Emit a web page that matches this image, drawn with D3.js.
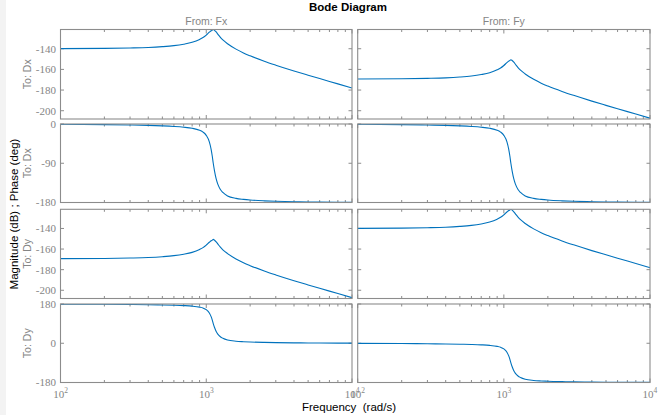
<!DOCTYPE html>
<html>
<head>
<meta charset="utf-8">
<script src="https://cdn.jsdelivr.net/npm/d3@7"></script>
<style>
  body { margin: 0; background: #fff; }
  .frame { fill: none; stroke: #8c8c8c; stroke-width: 1.1; }
  .tick { stroke: #8c8c8c; stroke-width: 1; }
  .tlabel { font-family: "Liberation Serif", serif; font-size: 11px; fill: #858585; }
  .gray { font-family: "Liberation Sans", Arial, sans-serif; font-size: 10.5px; fill: #858585; }
  .curve { fill: none; stroke: #0072bd; stroke-width: 1.1; }
</style>
</head>
<body>
<svg width="659" height="415"></svg>
<script>
// frequency grid (rad/s) and values
var freqs = [100, 200, 300, 400, 500, 600, 700, 800, 900, 950, 1000, 1050, 1080, 1100, 1117,
  1140, 1170, 1200, 1250, 1300, 1400, 1600, 1800, 2000, 2500, 3000, 4000, 5000, 6000, 8000, 10000];

var magDirect = [-139.9, -139.7, -139.3, -138.8, -138.0, -137.0, -135.6, -133.8, -131.0, -129.2, -126.8, -124.0, -122.6, -122.0, -121.4,
  -122.2, -123.8, -125.8, -129.0, -131.5, -135.2, -140.4, -144.1, -146.9, -152.1, -155.9, -161.5, -165.6, -168.9, -174.0, -178.0];

var magCross = [-169.3, -169.1, -168.7, -168.2, -167.4, -166.4, -165.0, -163.2, -160.4, -158.6, -156.2, -153.4, -152.0, -151.3, -150.6,
  -151.4, -153.0, -155.0, -158.2, -160.7, -164.4, -169.6, -173.3, -176.1, -181.3, -185.1, -190.7, -194.8, -198.1, -203.2, -207.2];

var phaseDirect = [-0.7, -1.4, -2.3, -3.2, -4.3, -5.6, -7.3, -9.8, -14.5, -18.5, -26, -41, -58, -74, -90,
  -108, -126, -138, -150, -157, -165, -170.5, -172.8, -174.3, -176.2, -177.2, -178.2, -178.7, -179.0, -179.3, -179.5];

var phaseCross = [179.3, 178.6, 177.7, 176.8, 175.7, 174.4, 172.7, 170.2, 165.5, 161.5, 154, 139, 122, 106, 90,
  72, 54, 42, 30, 23, 15, 9.5, 7.2, 5.7, 3.8, 2.8, 1.8, 1.3, 1.0, 0.7, 0.5];

var inputs = ["Fx", "Fy"];
var outputs = ["Dx", "Dy"];
var magTicks = [-140, -160, -180, -200];
var phaseTicksDx = [0, -90, -180];
var phaseTicksDy = [180, 0, -180];
var xTickExps = [2, 3, 4];

var svg = d3.select("svg");

svg.append("rect").attr("x", 0).attr("y", 0).attr("width", 6).attr("height", 415).attr("fill", "#f3f3f3");

var cols = [{x0: 60.5, x1: 352}, {x0: 357.7, x1: 650}];
var rows = [
  {out: 0, top: 29.5, bottom: 119, domain: [-208, -121.4], ticks: magTicks, series: [magDirect, magCross]},
  {out: 0, top: 124, bottom: 202.5, domain: [-180, 0], ticks: phaseTicksDx, series: [phaseDirect, phaseDirect]},
  {out: 1, top: 209.3, bottom: 298.5, domain: [-208, -121.4], ticks: magTicks, series: [magCross, magDirect]},
  {out: 1, top: 304, bottom: 382.5, domain: [-180, 180], ticks: phaseTicksDy, series: [phaseCross, phaseDirect]}
];

var clipId = 0;

rows.forEach(function(row, ri) {
  cols.forEach(function(col, ci) {
    var w = col.x1 - col.x0, h = row.bottom - row.top;
    var x = d3.scaleLog().domain([100, 10000]).range([0, w]);
    var y = d3.scaleLinear().domain(row.domain).range([h, 0]);
    var g = svg.append("g").attr("transform", "translate(" + col.x0 + "," + row.top + ")");

    var id = "clip" + (clipId++);
    g.append("clipPath").attr("id", id)
      .append("rect").attr("width", w).attr("height", h);

    // x ticks, top and bottom, inside
    x.ticks().forEach(function(v) {
      var major = Math.abs(Math.log10(v) - Math.round(Math.log10(v))) < 1e-9;
      var len = major ? 4 : 2.5;
      g.append("line").attr("class", "tick")
        .attr("x1", x(v)).attr("x2", x(v)).attr("y1", h).attr("y2", h - len);
      g.append("line").attr("class", "tick")
        .attr("x1", x(v)).attr("x2", x(v)).attr("y1", 0).attr("y2", len);
    });

    // y ticks, left and right
    row.ticks.forEach(function(v) {
      g.append("line").attr("class", "tick")
        .attr("x1", 0).attr("x2", 3.5).attr("y1", y(v)).attr("y2", y(v));
      g.append("line").attr("class", "tick")
        .attr("x1", w).attr("x2", w - 3.5).attr("y1", y(v)).attr("y2", y(v));
      if (ci == 0) {
        g.append("text").attr("class", "tlabel")
          .attr("x", -4.5).attr("y", y(v)).attr("dy", "0.35em")
          .attr("text-anchor", "end")
          .text(v);
      }
    });

    var line = d3.line()
      .x(function(d, i) { return x(freqs[i]); })
      .y(function(d) { return y(d); })
      .curve(d3.curveMonotoneX);

    g.append("path")
      .datum(row.series[ci])
      .attr("class", "curve")
      .attr("clip-path", "url(#" + id + ")")
      .attr("d", line);

    g.append("rect").attr("class", "frame").attr("width", w).attr("height", h);

    if (ri == rows.length - 1) {
      xTickExps.forEach(function(e) {
        var t = g.append("text").attr("class", "tlabel")
          .attr("x", x(Math.pow(10, e))).attr("y", h + 15)
          .attr("text-anchor", "middle");
        t.append("tspan").text("10");
        t.append("tspan").attr("dy", -4.5).attr("font-size", "7.5px").text(e);
      });
    }
    if (ri == 0) {
      g.append("text").attr("class", "gray")
        .attr("x", w / 2).attr("y", -4.5)
        .attr("text-anchor", "middle")
        .text("From: " + inputs[ci]);
    }
    if (ci == 0) {
      g.append("text").attr("class", "gray")
        .attr("transform", "translate(-30," + (h / 2) + ") rotate(-90)")
        .attr("text-anchor", "middle")
        .text("To: " + outputs[row.out]);
    }
  });
});

svg.append("text")
  .attr("x", 348).attr("y", 11)
  .attr("text-anchor", "middle")
  .style("font-family", "Liberation Sans, Arial, sans-serif")
  .style("font-size", "11.5px")
  .style("font-weight", "bold")
  .text("Bode Diagram");

svg.append("text")
  .attr("x", 349).attr("y", 411)
  .attr("text-anchor", "middle")
  .style("font-family", "Liberation Sans, Arial, sans-serif")
  .style("font-size", "11.5px")
  .style("white-space", "pre")
  .attr("xml:space", "preserve")
  .text("Frequency  (rad/s)");

svg.append("text")
  .attr("transform", "translate(18,214) rotate(-90)")
  .attr("text-anchor", "middle")
  .style("font-family", "Liberation Sans, Arial, sans-serif")
  .style("font-size", "11.5px")
  .text("Magnitude (dB) ; Phase (deg)");
</script>
</body>
</html>
